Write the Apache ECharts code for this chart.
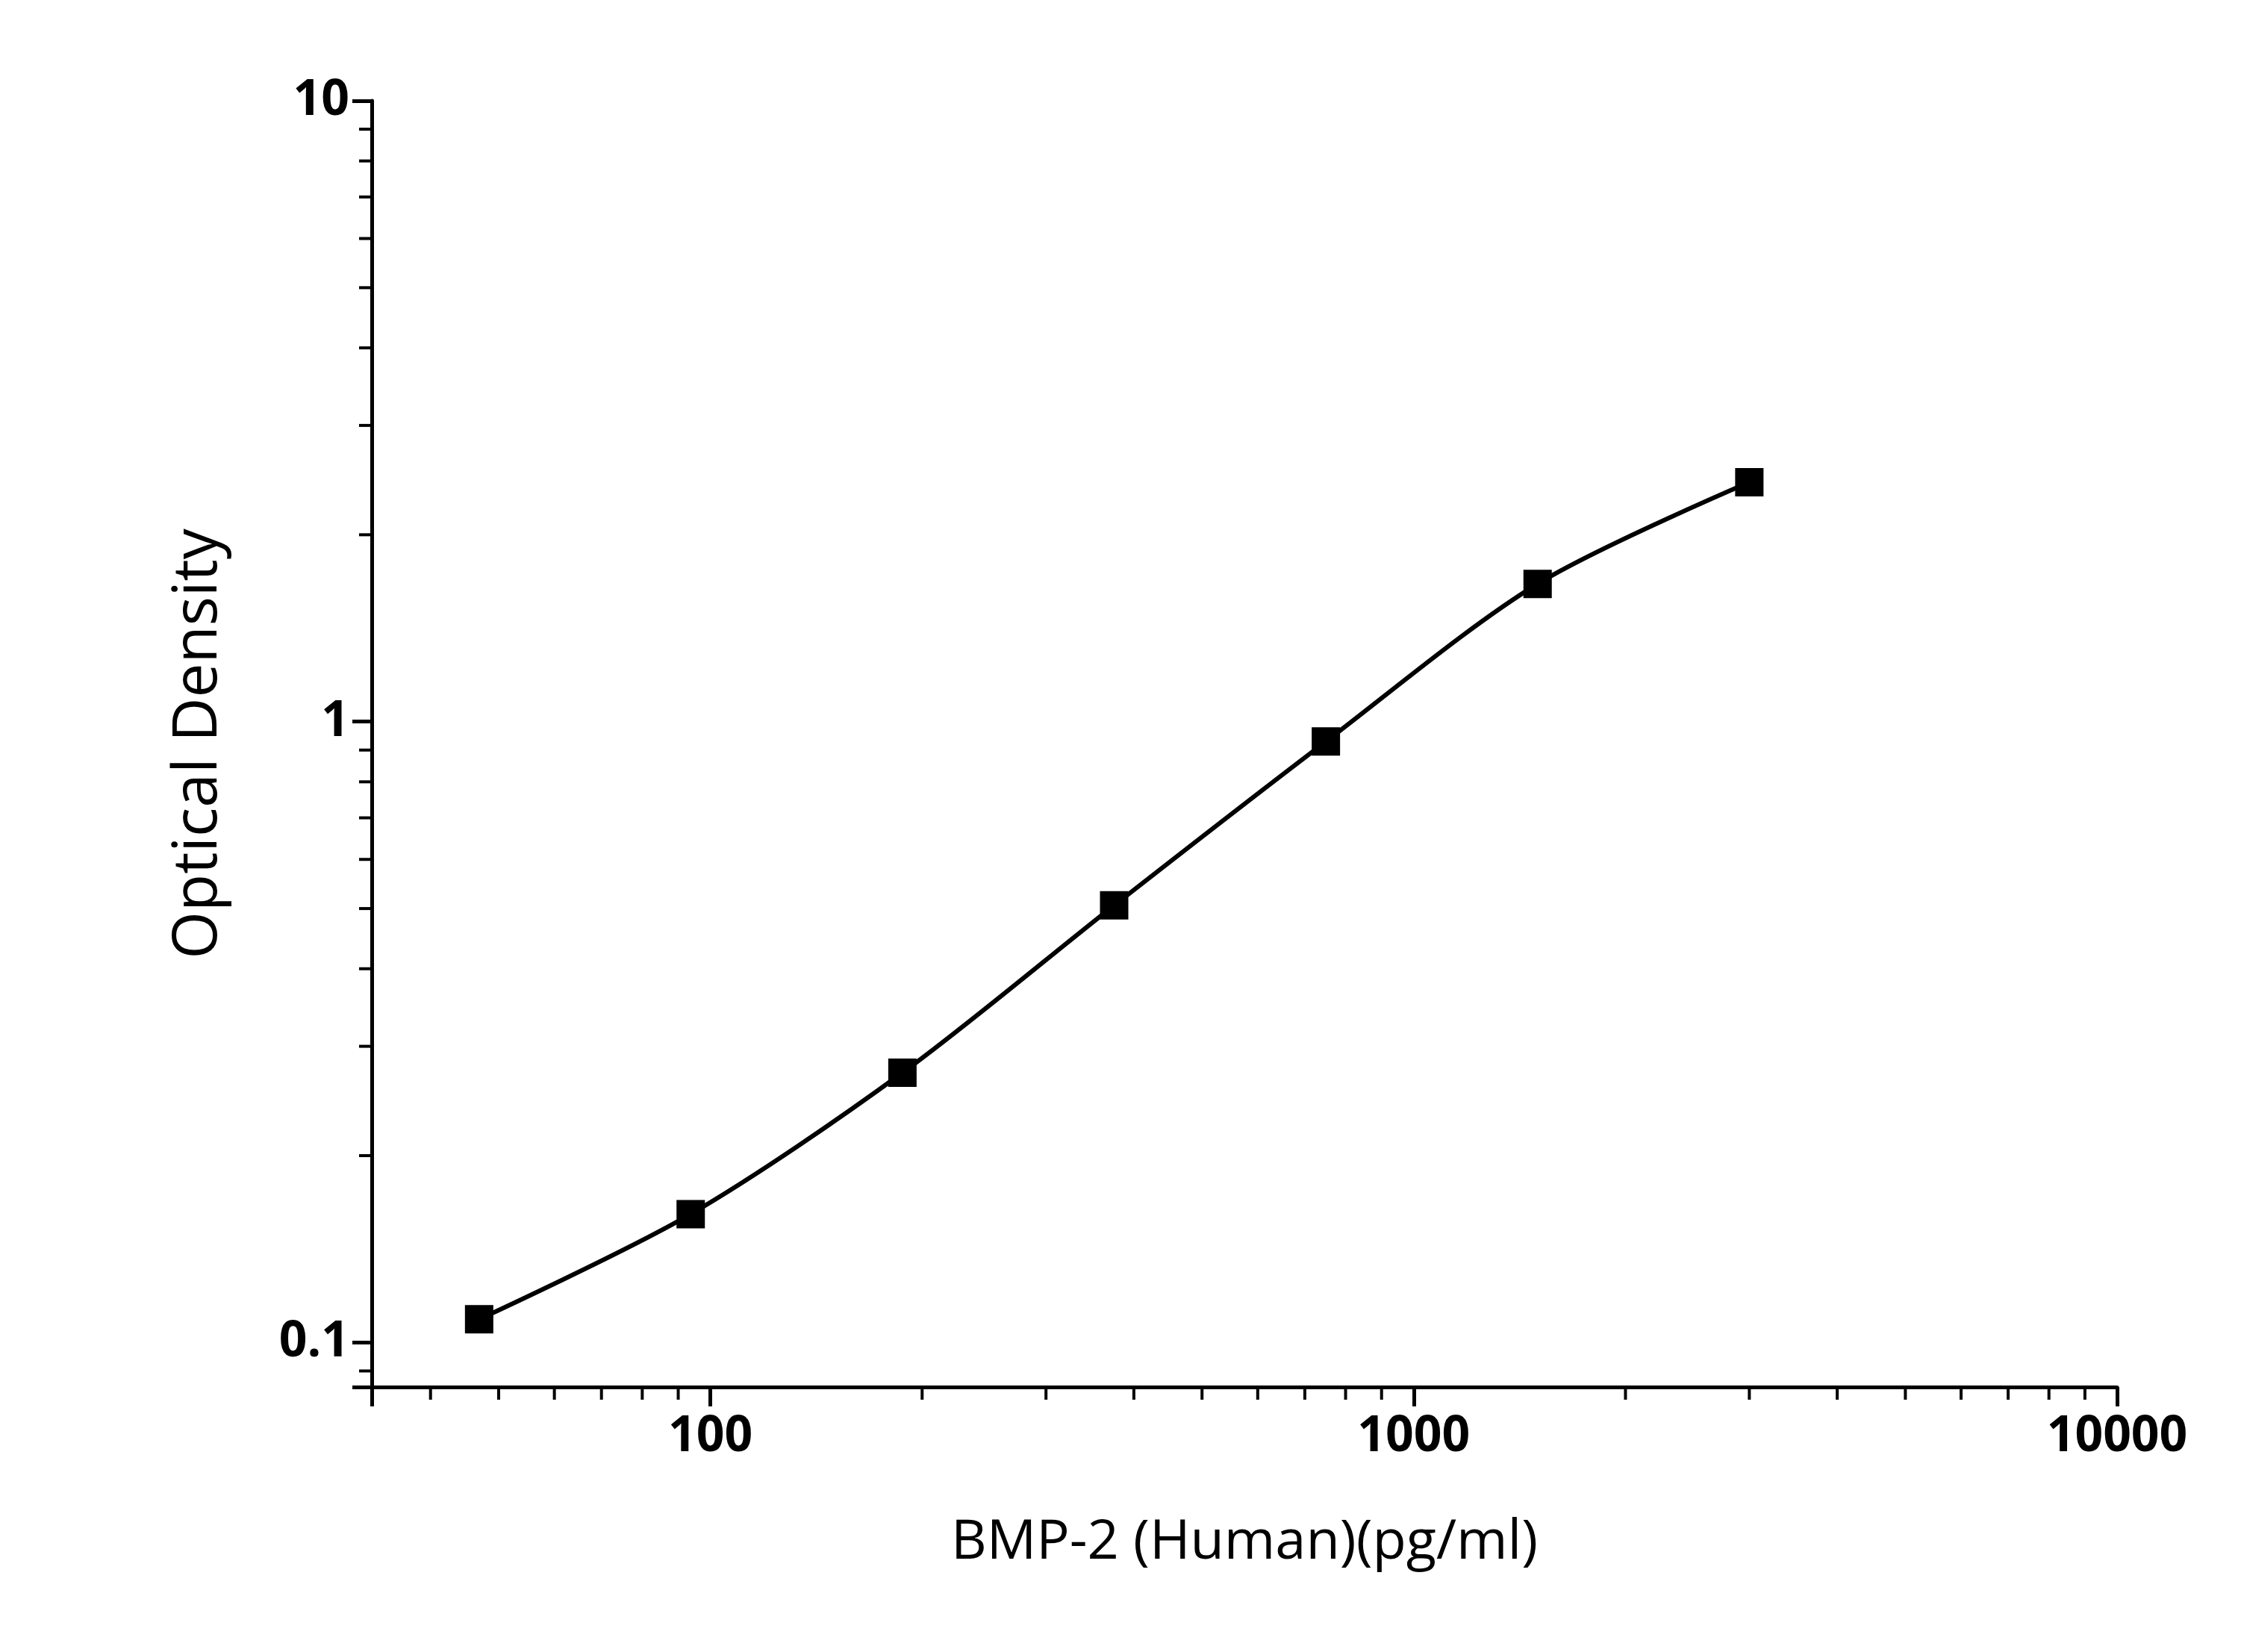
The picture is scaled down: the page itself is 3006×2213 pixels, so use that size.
<!DOCTYPE html>
<html>
<head>
<meta charset="utf-8">
<script src="https://cdn.jsdelivr.net/npm/echarts@6/dist/echarts.min.js"></script>
<style>html,body{margin:0;padding:0;background:#fff;}#chart{width:3006px;height:2213px;}</style>
</head>
<body>
<div id="chart"></div>
<script>
var concentration = [46.9, 93.75, 187.5, 375, 750, 1500, 3000];
var density = [0.109, 0.161, 0.272, 0.506, 0.929, 1.667, 2.43];
var xMinorTicks = [40, 50, 60, 70, 80, 90, 200, 300, 400, 500, 600, 700, 800, 900, 2000, 3000, 4000, 5000, 6000, 7000, 8000, 9000];
var yMinorTicks = [0.09, 0.2, 0.3, 0.4, 0.5, 0.6, 0.7, 0.8, 0.9, 2, 3, 4, 5, 6, 7, 8, 9];
var xTickLabels = ['100', '1000', '10000'];
var yTickLabels = ['0.1', '1', '10'];

var xMin = 33, xMax = 10000, yMin = 0.0848, yMax = 10;

var myChart = echarts.init(document.getElementById('chart'));

var points = concentration.map(function(c, i) { return [c, density[i]]; });

var minorData = [];
xMinorTicks.forEach(function(v) { minorData.push(['x', v]); });
yMinorTicks.forEach(function(v) { minorData.push(['y', v]); });

function pickLabel(list) {
	return function(v) {
		var s = String(+v.toPrecision(6));
		return list.indexOf(s) >= 0 ? s : '';
	};
}

var option = {
	animation: false,
	backgroundColor: '#fff',
	grid: { left: 498, right: 170, top: 135, bottom: 355 },
	xAxis: {
		type: 'log', logBase: 10, min: xMin, max: xMax,
		name: 'BMP-2 (Human)(pg/ml)', nameLocation: 'middle', nameGap: 172,
		nameTextStyle: { fontSize: 74, fontFamily: 'Open Sans', color: '#000' },
		axisLine: { lineStyle: { color: '#000', width: 5 } },
		axisTick: { inside: false, length: 26, lineStyle: { color: '#000', width: 5 } },
		axisLabel: { fontSize: 66, fontWeight: 'bold', fontFamily: 'Open Sans', color: '#000', margin: 34, formatter: pickLabel(xTickLabels) },
		splitLine: { show: false }
	},
	yAxis: {
		type: 'log', logBase: 10, min: yMin, max: yMax,
		name: 'Optical Density', nameLocation: 'middle', nameGap: 190,
		nameTextStyle: { fontSize: 82, fontFamily: 'Open Sans', color: '#000' },
		axisLine: { lineStyle: { color: '#000', width: 5 } },
		axisTick: { inside: false, length: 26, lineStyle: { color: '#000', width: 5 } },
		axisLabel: { fontSize: 66, fontWeight: 'bold', fontFamily: 'Open Sans', color: '#000', margin: 30, formatter: pickLabel(yTickLabels) },
		splitLine: { show: false }
	},
	series: [{
		type: 'line',
		data: points,
		smooth: 0.3,
		symbol: 'none',
		lineStyle: { color: '#000', width: 6 }
	}, {
		type: 'scatter',
		data: points,
		symbol: 'rect',
		symbolSize: 38,
		itemStyle: { color: '#000', opacity: 1 }
	}, {
		type: 'custom',
		clip: false,
		silent: true,
		data: minorData,
		renderItem: function(params, api) {
			var v = minorData[params.dataIndex][1];
			if (minorData[params.dataIndex][0] === 'x') {
				var p = api.coord([v, yMin]);
				return { type: 'line', shape: { x1: p[0], y1: p[1], x2: p[0], y2: p[1] + 17 }, style: { stroke: '#000', lineWidth: 4 } };
			}
			var q = api.coord([xMin, v]);
			return { type: 'line', shape: { x1: q[0], y1: q[1], x2: q[0] - 17, y2: q[1] }, style: { stroke: '#000', lineWidth: 4 } };
		}
	}]
};

myChart.setOption(option);
</script>
</body>
</html>
